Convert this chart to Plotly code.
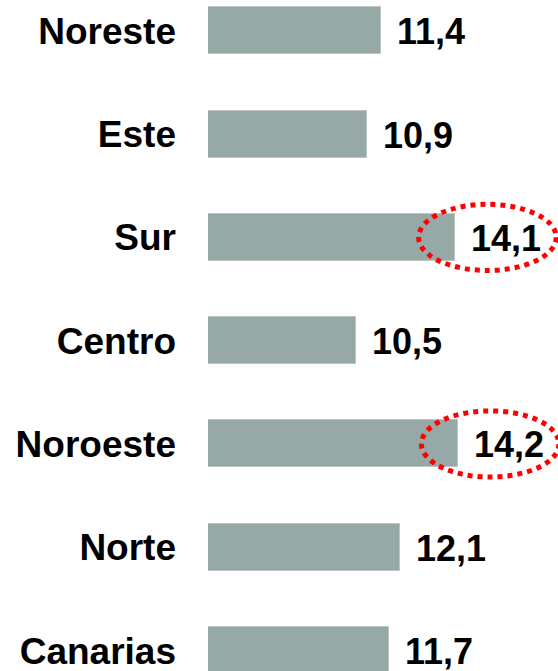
import plotly.graph_objects as go

categories = ["Noreste", "Este", "Sur", "Centro", "Noroeste", "Norte", "Canarias"]
values = [11.4, 10.9, 14.1, 10.5, 14.2, 12.1, 11.7]
highlighted = ["Sur", "Noroeste"]

BAR_COLOR = "#97a9a6"
FONT = "Arial, 'Liberation Sans', sans-serif"

fig = go.Figure()
fig.add_trace(go.Bar(
    x=values, y=categories, orientation="h",
    marker=dict(color=BAR_COLOR, line=dict(color="#bcc6c4", width=1)),
    width=0.455, hoverinfo="skip",
))

annotations = []
for c, v in zip(categories, values):
    annotations.append(dict(
        x=v, y=c, xref="x", yref="y", xanchor="left", yanchor="middle",
        xshift=14, yshift=-1, showarrow=False,
        text=f"{v:.1f}".replace(".", ","),
        font=dict(family=FONT, size=36, color="#000000", weight="bold"),
    ))

shapes = []
for c, v in zip(categories, values):
    if c in highlighted:
        i = categories.index(c)
        shapes.append(dict(
            type="circle", xref="x", yref="y",
            x0=v - 1.33, x1=v + 3.66, y0=i - 0.32, y1=i + 0.32,
            line=dict(color="#ff0000", width=5, dash="dot"),
            layer="above",
        ))

fig.update_layout(
    width=558, height=671,
    margin=dict(l=208, r=0, t=0, b=0),
    paper_bgcolor="white", plot_bgcolor="white",
    showlegend=False,
    bargap=0,
    xaxis=dict(range=[5.13, 17.825], visible=False, fixedrange=True),
    yaxis=dict(
        type="category", categoryorder="array", categoryarray=categories,
        range=[6.198, -0.298], autorange=False,
        showgrid=False, zeroline=False, showline=False, ticks="",
        ticklabelstandoff=31,
        tickfont=dict(family=FONT, size=37, color="#000000", weight="bold"),
    ),
    annotations=annotations,
    shapes=shapes,
)

fig.write_html(
    "out.html",
    config={"displayModeBar": False},
    post_script="document.body.style.margin='0';document.body.style.overflow='hidden';",
)
